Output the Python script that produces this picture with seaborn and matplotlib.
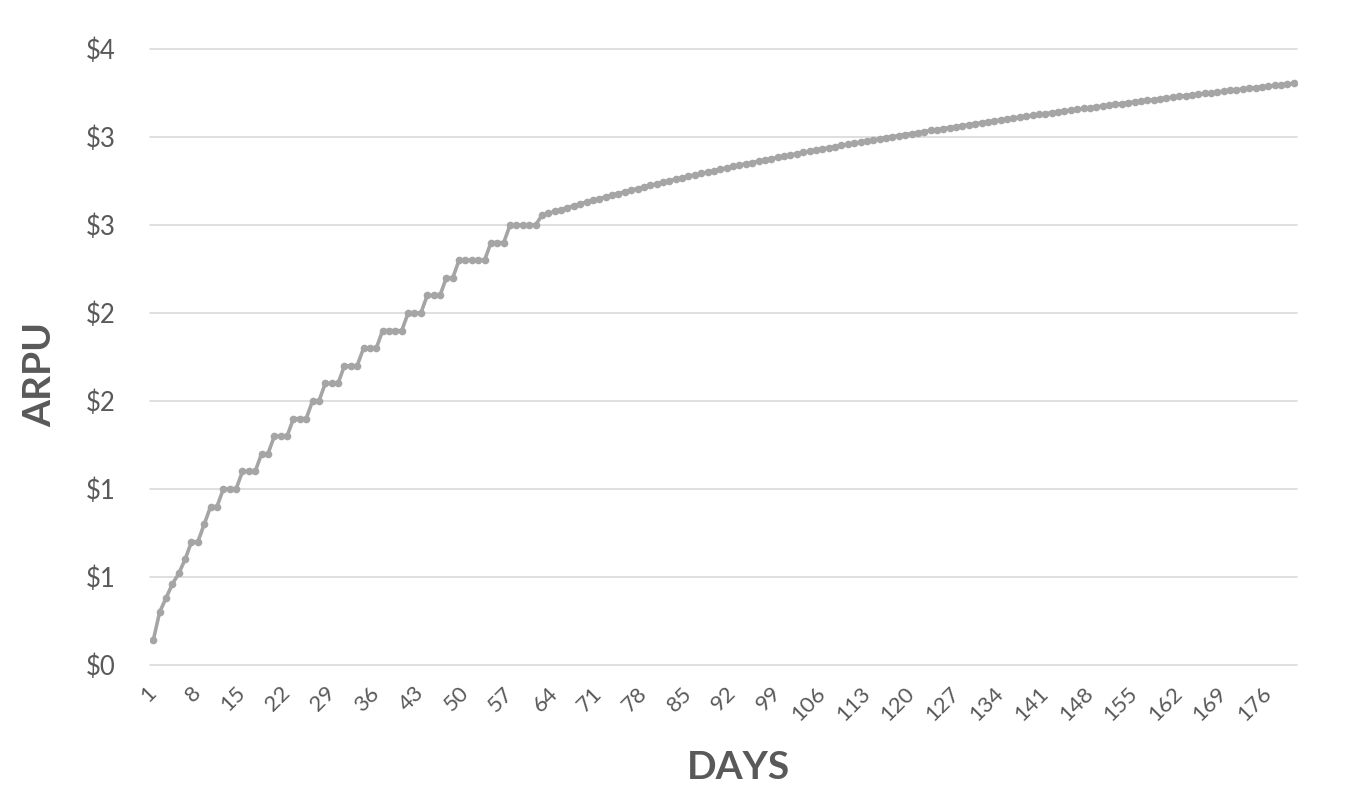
import numpy as np
import pandas as pd
import matplotlib
matplotlib.use("Agg")
import matplotlib.pyplot as plt
import seaborn as sns

# ARPU by day
stairs = [
    0.14, 0.30, 0.38, 0.46, 0.52, 0.60, 0.70, 0.70, 0.80, 0.90,
    0.90, 1.00, 1.00, 1.00, 1.10, 1.10, 1.10, 1.20, 1.20, 1.30,
    1.30, 1.30, 1.40, 1.40, 1.40, 1.50, 1.50, 1.60, 1.60, 1.60,
    1.70, 1.70, 1.70, 1.80, 1.80, 1.80, 1.90, 1.90, 1.90, 1.90,
    2.00, 2.00, 2.00, 2.10, 2.10, 2.10, 2.20, 2.20, 2.30, 2.30,
    2.30, 2.30, 2.30, 2.40, 2.40, 2.40, 2.50, 2.50, 2.50, 2.50,
    2.50,
]
smooth = [
    2.555, 2.566, 2.577, 2.588, 2.599, 2.609, 2.620, 2.630, 2.640, 2.650,
    2.660, 2.670, 2.679, 2.689, 2.698, 2.707, 2.716, 2.725, 2.734, 2.743,
    2.752, 2.760, 2.769, 2.777, 2.785, 2.793, 2.801, 2.809, 2.817, 2.825,
    2.833, 2.840, 2.848, 2.855, 2.862, 2.870, 2.877, 2.884, 2.891, 2.898,
    2.905, 2.912, 2.919, 2.926, 2.932, 2.939, 2.945, 2.952, 2.958, 2.965,
    2.971, 2.977, 2.983, 2.990, 2.996, 3.002, 3.008, 3.014, 3.019, 3.025,
    3.031, 3.037, 3.042, 3.048, 3.054, 3.059, 3.065, 3.070, 3.076, 3.081,
    3.087, 3.092, 3.097, 3.102, 3.108, 3.113, 3.118, 3.123, 3.128, 3.133,
    3.138, 3.143, 3.148, 3.153, 3.157, 3.162, 3.167, 3.172, 3.176, 3.181,
    3.186, 3.190, 3.195, 3.200, 3.204, 3.209, 3.213, 3.217, 3.222, 3.226,
    3.231, 3.235, 3.239, 3.243, 3.248, 3.252, 3.256, 3.260, 3.265, 3.269,
    3.273, 3.277, 3.281, 3.285, 3.289, 3.293, 3.297, 3.301, 3.305,
]
arpu = stairs + smooth
days = list(range(1, len(arpu) + 1))

y_ticks = [0, 0.5, 1.0, 1.5, 2.0, 2.5, 3.0, 3.5]
y_labels = ["$0", "$1", "$1", "$2", "$2", "$3", "$3", "$4"]
x_ticks = list(range(1, 177, 7))

LINE = "#a5a5a5"
TEXT = "#595959"
GRID = "#d9d9d9"

sns.set_style("white")
plt.rcParams["font.family"] = ["Lato", "DejaVu Sans"]

df = pd.DataFrame({"day": days, "arpu": arpu})

fig = plt.figure(figsize=(13.58, 7.93), dpi=100)
ax = fig.add_axes([0.1105, 0.1614, 0.8446, 0.7768])

sns.lineplot(data=df, x="day", y="arpu", ax=ax, color=LINE, linewidth=2.6,
             marker="o", markersize=5.5, markeredgewidth=0, markerfacecolor=LINE)

ax.set_xlim(0.5, len(days) + 0.5)
ax.set_ylim(0, 3.5)

ax.set_yticks(y_ticks)
ax.set_yticklabels(y_labels, fontsize=18.5, color=TEXT)
ax.set_xticks(x_ticks)
ax.set_xticklabels([str(d) for d in x_ticks], fontsize=16, color=TEXT,
                   rotation=45, ha="right", va="center", rotation_mode="anchor")

ax.tick_params(axis="y", length=0, pad=25)
ax.tick_params(axis="x", length=0, pad=18)

ax.grid(axis="y", color=GRID, linewidth=1.2)
ax.set_axisbelow(True)
for gl in ax.get_ygridlines():
    gl.set_clip_on(False)
for s in ax.spines.values():
    s.set_visible(False)

ax.set_ylabel("ARPU", fontsize=28, fontweight="bold", color=TEXT, va="center")
ax.set_xlabel("DAYS", fontsize=28, fontweight="bold", color=TEXT, va="center")
ax.yaxis.set_label_coords(-0.096, 0.472)
ax.xaxis.set_label_coords(0.5126, -0.166)

plt.savefig("out.png", dpi=100)
